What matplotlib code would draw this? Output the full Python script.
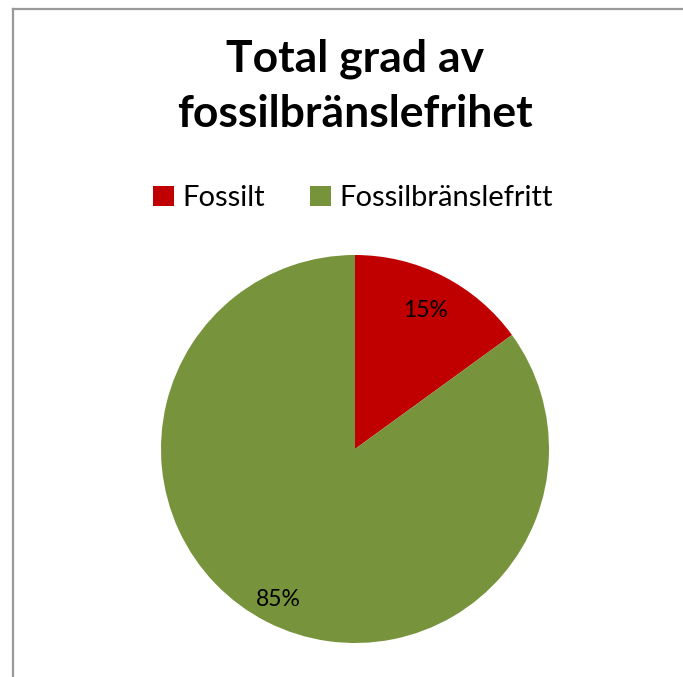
import numpy as np
import matplotlib.pyplot as plt
from matplotlib.lines import Line2D

categories = ["Fossilt", "Fossilbränslefritt"]
shares = [15, 85]
colors = ["#C00000", "#77933C"]
title = "Total grad av\nfossilbränslefrihet"

W, H = 683, 677
fig = plt.figure(figsize=(W / 100, H / 100), dpi=100)
fig.patch.set_facecolor("white")

# chart-area border (cut off on the right and bottom)
bx, by = 13 / W, 1 - 9 / H
fig.add_artist(Line2D([bx, bx], [0, by], color="#999999", lw=1.6))
fig.add_artist(Line2D([bx, 1], [by, by], color="#999999", lw=1.6))

fig.text(355 / W, 1 - 86 / H, title, ha="center", va="center", fontsize=32,
         fontweight="bold", family="Lato", linespacing=1.45)

# pie
cx, cy, r = 355, 449, 194
ax = fig.add_axes([(cx - r) / W, 1 - (cy + r) / H, 2 * r / W, 2 * r / H])
wedges, _ = ax.pie(shares, colors=colors, startangle=90, counterclock=False,
                   wedgeprops=dict(linewidth=0))
ax.set_xlim(-1, 1)
ax.set_ylim(-1, 1)
ax.set_aspect("auto")

label_r = [0.80, 0.87]
for w, v, lr in zip(wedges, shares, label_r):
    ang = np.deg2rad((w.theta1 + w.theta2) / 2)
    ax.text(lr * np.cos(ang), lr * np.sin(ang), f"{v}%", ha="center", va="center",
            fontsize=16.5, family="Lato")

leg = fig.legend(handles=wedges, labels=categories, loc="center",
                 bbox_to_anchor=(353 / W, 1 - 198 / H), ncol=2, frameon=False,
                 prop=dict(family="Lato", size=21), handlelength=0.7,
                 handleheight=0.7, handletextpad=0.3, columnspacing=1.55)

fig.savefig("out.png", dpi=100, facecolor="white")
